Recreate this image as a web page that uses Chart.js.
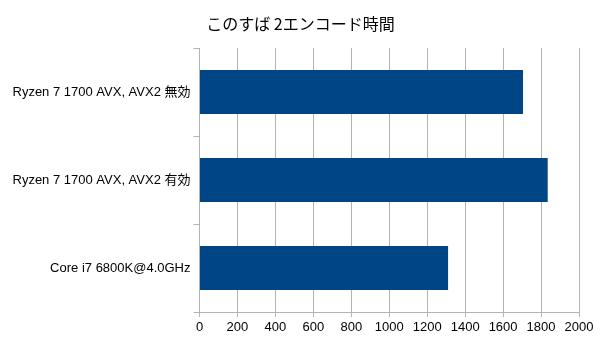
<!DOCTYPE html>
<html>
<head>
<meta charset="utf-8">
<script src="https://cdn.jsdelivr.net/npm/chart.js@4"></script>
<style>
  html, body { margin: 0; padding: 0; background: #fff; }
  #wrap { width: 605px; height: 340px; }
</style>
</head>
<body>
<div id="wrap"><canvas id="encodeChart"></canvas></div>
<script>
const titleText = 'このすば 2エンコード時間';
const categories = ['Ryzen 7 1700 AVX, AVX2 無効', 'Ryzen 7 1700 AVX, AVX2 有効', 'Core i7 6800K@4.0GHz'];
const encodeSeconds = [1705, 1835, 1310];
const xMin = 0;
const xMax = 2000;
const xStep = 200;

const labelFont = { family: '"Liberation Sans", "Noto Sans CJK JP", sans-serif', size: 13 };

// title is centred on the whole canvas in the original, not on the padded area
const centreTitle = {
  id: 'centreTitle',
  afterLayout(chart) {
    if (chart.titleBlock) {
      chart.titleBlock.left = 0;
      chart.titleBlock.right = 601;
    }
  },
};

const ctx = document.getElementById('encodeChart').getContext('2d');
new Chart(ctx, {
  type: 'bar',
  data: {
    labels: categories,
    datasets: [{
      data: encodeSeconds,
      backgroundColor: '#004586',
      borderWidth: 0,
      barPercentage: 0.5,
      categoryPercentage: 1.0,
    }],
  },
  plugins: [centreTitle],
  options: {
    indexAxis: 'y',
    responsive: true,
    maintainAspectRatio: false,
    animation: false,
    layout: { padding: { left: 0, right: 26, top: 0, bottom: 0 } },
    plugins: {
      legend: { display: false },
      tooltip: { enabled: false },
      title: {
        display: true,
        text: titleText,
        color: '#000',
        font: { family: '"Noto Sans CJK JP", sans-serif', size: 16, weight: 'normal', lineHeight: 1.2 },
        padding: { top: 14, bottom: 14.8 },
      },
    },
    scales: {
      x: {
        min: xMin,
        max: xMax,
        ticks: {
          stepSize: xStep,
          color: '#000',
          font: labelFont,
          padding: 3,
          maxRotation: 0,
          minRotation: 0,
          autoSkip: false,
          callback: value => String(value),
        },
        grid: { color: '#b3b3b3', tickLength: 5 },
        border: { color: '#b3b3b3' },
        afterFit: scale => { scale.height = 28; },
      },
      y: {
        ticks: { color: '#000', font: labelFont, padding: 3 },
        grid: { display: true, drawOnChartArea: false, color: '#b3b3b3', tickLength: 6, offset: true },
        border: { color: '#b3b3b3' },
        afterFit: scale => { scale.width = 199.5; },
      },
    },
  },
});
</script>
</body>
</html>
